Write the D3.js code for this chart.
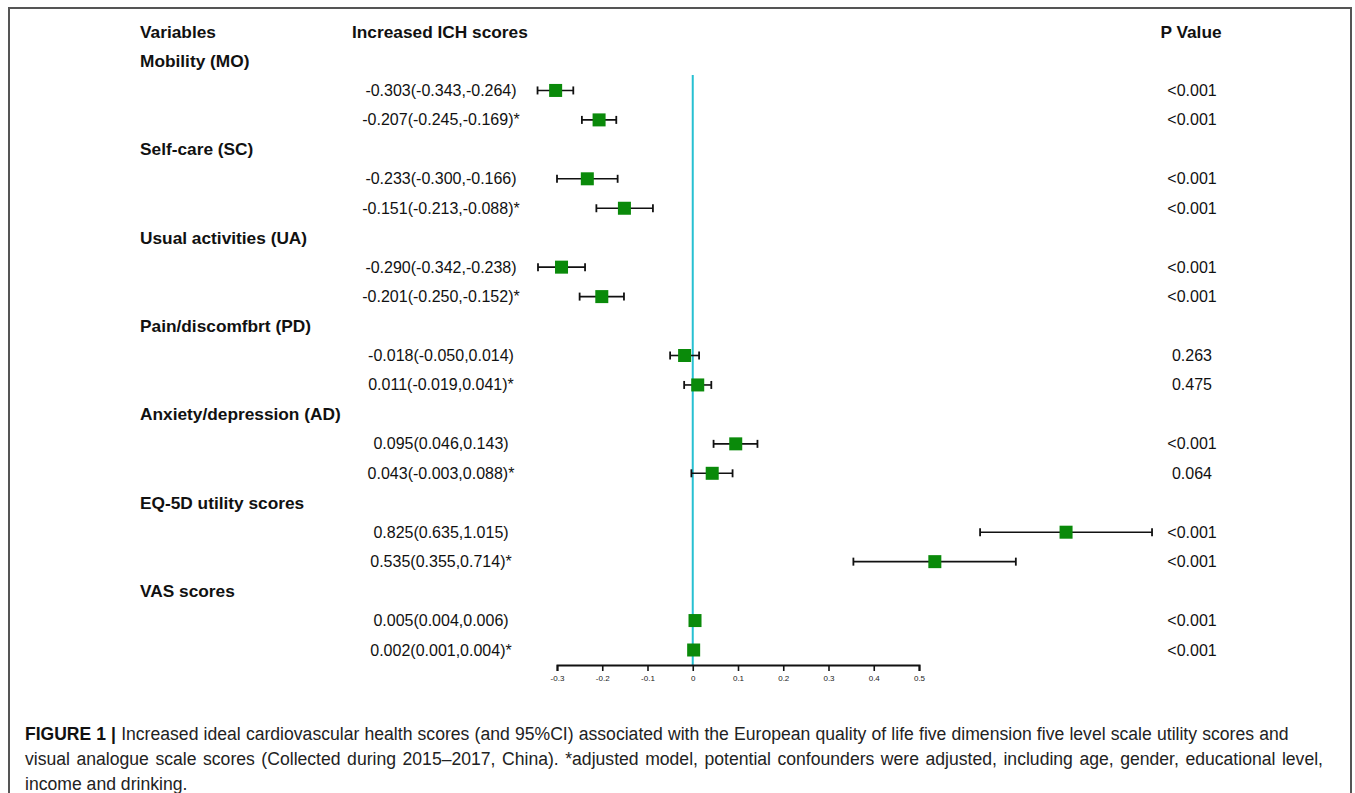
<!DOCTYPE html>
<html>
<head>
<meta charset="utf-8">
<script src="https://cdn.jsdelivr.net/npm/d3@7"></script>
<style>
  html, body { margin: 0; padding: 0; background: #fff; }
  svg { display: block; font-family: "Liberation Sans", Arial, Helvetica, sans-serif; }
</style>
</head>
<body>
<svg id="chart" width="1355" height="793"></svg>
<script>
// ---- Data ----
const groups = [
  "Mobility (MO)",
  "Self-care (SC)",
  "Usual activities (UA)",
  "Pain/discomfbrt (PD)",
  "Anxiety/depression (AD)",
  "EQ-5D utility scores",
  "VAS scores"
];
const estimates = [-0.303, -0.207, -0.233, -0.151, -0.290, -0.201, -0.018, 0.011, 0.095, 0.043, 0.825, 0.535, 0.005, 0.002];
const lowerCI   = [-0.343, -0.245, -0.300, -0.213, -0.342, -0.250, -0.050, -0.019, 0.046, -0.003, 0.635, 0.355, 0.004, 0.001];
const upperCI   = [-0.264, -0.169, -0.166, -0.088, -0.238, -0.152, 0.014, 0.041, 0.143, 0.088, 1.015, 0.714, 0.006, 0.004];
const adjusted  = [false, true, false, true, false, true, false, true, false, true, false, true, false, true];
const pValues   = ["<0.001", "<0.001", "<0.001", "<0.001", "<0.001", "<0.001", "0.263", "0.475", "<0.001", "0.064", "<0.001", "<0.001", "<0.001", "<0.001"];
const tickValues = [-0.3, -0.2, -0.1, 0, 0.1, 0.2, 0.3, 0.4, 0.5];
const tickLabels = ["-0.3", "-0.2", "-0.1", "0", "0.1", "0.2", "0.3", "0.4", "0.5"];
const headers = ["Variables", "Increased ICH scores", "P Value"];
const captionBold = "FIGURE 1 |";
const captionLines = [
  "Increased ideal cardiovascular health scores (and 95%CI) associated with the European quality of life five dimension five level scale utility scores and",
  "visual analogue scale scores (Collected during 2015\u20132017, China). *adjusted model, potential confounders were adjusted, including age, gender, educational level,",
  "income and drinking."
];

// ---- Build rows ----
const rows = [];
groups.forEach((g, gi) => {
  rows.push({ id: "g" + gi, type: "group", label: g });
  for (let j = 0; j < 2; j++) {
    const i = gi * 2 + j;
    rows.push({ id: "r" + i, type: "est", i });
  }
});

const svg = d3.select("#chart");
const fmt = v => d3.format(".3f")(v).replace("\u2212", "-");

// Frame
svg.append("path")
  .attr("d", "M9,793 L9,8 L1351,8 L1351,793")
  .attr("fill", "none").attr("stroke", "#555").attr("stroke-width", 2);

// Scales
const x = d3.scaleLinear().domain([-0.3, 0.5]).range([557, 919]);
const y = d3.scalePoint().domain(rows.map(r => r.id)).range([61, 650]);
const axisY = 665;
const boldSize = 17.3, regSize = 16;

// Headers
svg.append("text").attr("x", 140).attr("y", 38).attr("font-size", boldSize).attr("font-weight", "bold").attr("fill", "#111").text(headers[0]);
svg.append("text").attr("x", 352).attr("y", 38).attr("font-size", boldSize).attr("font-weight", "bold").attr("fill", "#111").text(headers[1]);
svg.append("text").attr("x", 1191).attr("y", 38).attr("font-size", boldSize).attr("font-weight", "bold").attr("fill", "#111").attr("text-anchor", "middle").text(headers[2]);

// Group labels
svg.selectAll("text.group").data(rows.filter(r => r.type === "group")).join("text")
  .attr("class", "group")
  .attr("x", 140).attr("y", d => y(d.id) + 6)
  .attr("font-size", boldSize).attr("font-weight", "bold").attr("fill", "#111")
  .text(d => d.label);

const estRows = rows.filter(r => r.type === "est");

// Estimate labels
svg.selectAll("text.est").data(estRows).join("text")
  .attr("class", "est")
  .attr("x", 441).attr("y", d => y(d.id) + 5.5)
  .attr("font-size", regSize).attr("text-anchor", "middle").attr("fill", "#111")
  .text(d => `${fmt(estimates[d.i])}(${fmt(lowerCI[d.i])},${fmt(upperCI[d.i])})${adjusted[d.i] ? "*" : ""}`);

// P values
svg.selectAll("text.pv").data(estRows).join("text")
  .attr("class", "pv")
  .attr("x", 1192).attr("y", d => y(d.id) + 5.5)
  .attr("font-size", regSize).attr("text-anchor", "middle").attr("fill", "#111")
  .text(d => pValues[d.i]);

// Zero reference line
svg.append("line")
  .attr("x1", x(0)).attr("x2", x(0))
  .attr("y1", 75).attr("y2", axisY)
  .attr("stroke", "#27c0d2").attr("stroke-width", 2);

// Error bars
const eb = svg.selectAll("g.eb").data(estRows).join("g").attr("class", "eb");
eb.append("line")
  .attr("x1", d => x(lowerCI[d.i])).attr("x2", d => x(upperCI[d.i]))
  .attr("y1", d => y(d.id)).attr("y2", d => y(d.id))
  .attr("stroke", "#111").attr("stroke-width", 1.6);
eb.append("line")
  .attr("x1", d => x(lowerCI[d.i])).attr("x2", d => x(lowerCI[d.i]))
  .attr("y1", d => y(d.id) - 4).attr("y2", d => y(d.id) + 4)
  .attr("stroke", "#111").attr("stroke-width", 1.8);
eb.append("line")
  .attr("x1", d => x(upperCI[d.i])).attr("x2", d => x(upperCI[d.i]))
  .attr("y1", d => y(d.id) - 4).attr("y2", d => y(d.id) + 4)
  .attr("stroke", "#111").attr("stroke-width", 1.8);
eb.append("rect")
  .attr("x", d => x(estimates[d.i]) - 6.5).attr("y", d => y(d.id) - 6.5)
  .attr("width", 13).attr("height", 13)
  .attr("fill", "#0a8a0a");

// Axis
const axis = d3.axisBottom(x).tickValues(tickValues).tickSize(6).tickPadding(4)
  .tickFormat((d, k) => tickLabels[k]);
const ag = svg.append("g").attr("transform", `translate(0,${axisY})`).call(axis);
ag.select(".domain").attr("stroke", "#111").attr("stroke-width", 2);
ag.selectAll(".tick line").attr("stroke", "#111").attr("stroke-width", 1.6);
ag.selectAll(".tick text").attr("font-size", 8).attr("fill", "#222")
  .attr("font-family", "Liberation Sans, Arial, sans-serif");

// Caption
const capX = 25, capYs = [740, 765, 790];
const capTargets = [1288, 1323, null];
captionLines.forEach((line, k) => {
  const t = svg.append("text").attr("x", capX).attr("y", capYs[k])
    .attr("font-size", 17.6).attr("fill", "#222");
  if (k === 0) {
    t.append("tspan").attr("font-weight", "bold").attr("font-size", 17.5).attr("fill", "#111").text(captionBold);
    t.append("tspan").text(" " + line);
  } else {
    t.append("tspan").text(line);
  }
  if (capTargets[k]) {
    const w = t.node().getComputedTextLength();
    const spaces = ((k === 0 ? " " : "") + line).match(/ /g).length;
    const extra = (capTargets[k] - capX - w) / spaces;
    if (extra > 0) t.attr("word-spacing", extra);
  }
});
</script>
</body>
</html>
